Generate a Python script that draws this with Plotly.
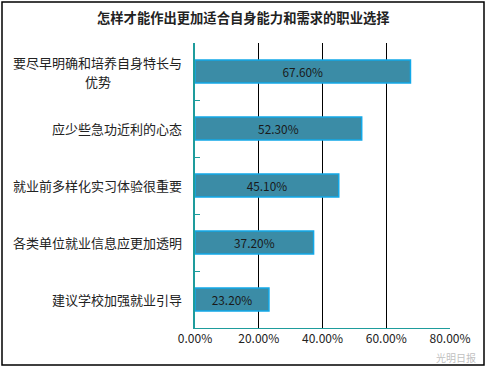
import plotly.graph_objects as go

categories = ["要尽早明确和培养自身特长与<br>优势", "应少些急功近利的心态", "就业前多样化实习体验很重要",
              "各类单位就业信息应更加透明", "建议学校加强就业引导"]
values = [67.6, 52.3, 45.1, 37.2, 23.2]
value_labels = ["67.60%", "52.30%", "45.10%", "37.20%", "23.20%"]
tick_vals = [0, 20, 40, 60, 80]
tick_text = ["0.00%", "20.00%", "40.00%", "60.00%", "80.00%"]
title = "怎样才能作出更加适合自身能力和需求的职业选择"

W, H = 486, 367
L, R, T, B = 195, 36, 43, 39
pw, ph = W - L - R, H - T - B

def px(x):
    return (x - L) / pw

def py(y):
    return (H - B - y) / ph

font = "Noto Sans CJK SC, SimSun, sans-serif"

fig = go.Figure(go.Bar(
    x=values, y=categories, orientation="h",
    marker=dict(color="#3B8CA6", line=dict(color="#12A8E8", width=1.5)),
    text=value_labels, textposition="inside", insidetextanchor="middle",
    textfont=dict(size=12, color="#1a1a1a", family=font),
    width=0.40, hoverinfo="skip",
))

annotations = []
for c in categories:
    lines = c.split("<br>")
    n = len(lines)
    for i, ln in enumerate(lines):
        shift = (n - 1) / 2 * 19 - i * 19
        annotations.append(dict(x=px(184) if n == 1 or i == 0 else px(97.5), xref="paper", y=c, yref="y",
                                text=ln, showarrow=False, yshift=shift,
                                xanchor="right" if (n == 1 or i == 0) else "center",
                                font=dict(size=13, color="#222", family=font)))
annotations.append(dict(x=px(243), xref="paper", y=py(18), yref="paper", text="<b>" + title + "</b>",
                        showarrow=False, xanchor="center", yanchor="middle",
                        font=dict(size=13.3, color="#222", family=font)))
annotations.append(dict(x=px(478), xref="paper", y=py(358), yref="paper", text="光明日报",
                        showarrow=False, xanchor="right", yanchor="middle",
                        font=dict(size=10, color="rgba(170,170,170,0.75)", family=font)))

fig.update_layout(
    width=W, height=H, margin=dict(l=L, r=R, t=T, b=B),
    paper_bgcolor="white", plot_bgcolor="white", showlegend=False,
    annotations=annotations,
    shapes=[dict(type="rect", xref="paper", yref="paper",
                 x0=px(2), x1=px(484), y0=py(365), y1=py(2),
                 line=dict(color="black", width=1.5), fillcolor="rgba(0,0,0,0)", layer="below")],
)
fig.update_xaxes(range=[0, 80], tickvals=tick_vals, ticktext=tick_text,
                 showgrid=True, gridcolor="black", gridwidth=1,
                 showline=True, linecolor="#1E9C9C", linewidth=1, zeroline=False,
                 tickfont=dict(size=12, color="#222", family=font), ticks="", fixedrange=True)
fig.update_yaxes(autorange="reversed", showticklabels=False, showline=True, linecolor="#1E9C9C",
                 linewidth=1.5, ticks="inside", tickson="boundaries", ticklen=5, tickcolor="#1E9C9C",
                 showgrid=False, fixedrange=True)

fig.write_html("out.html", config={"displayModeBar": False},
               post_script="document.body.style.margin='0';document.body.style.overflow='hidden';")
